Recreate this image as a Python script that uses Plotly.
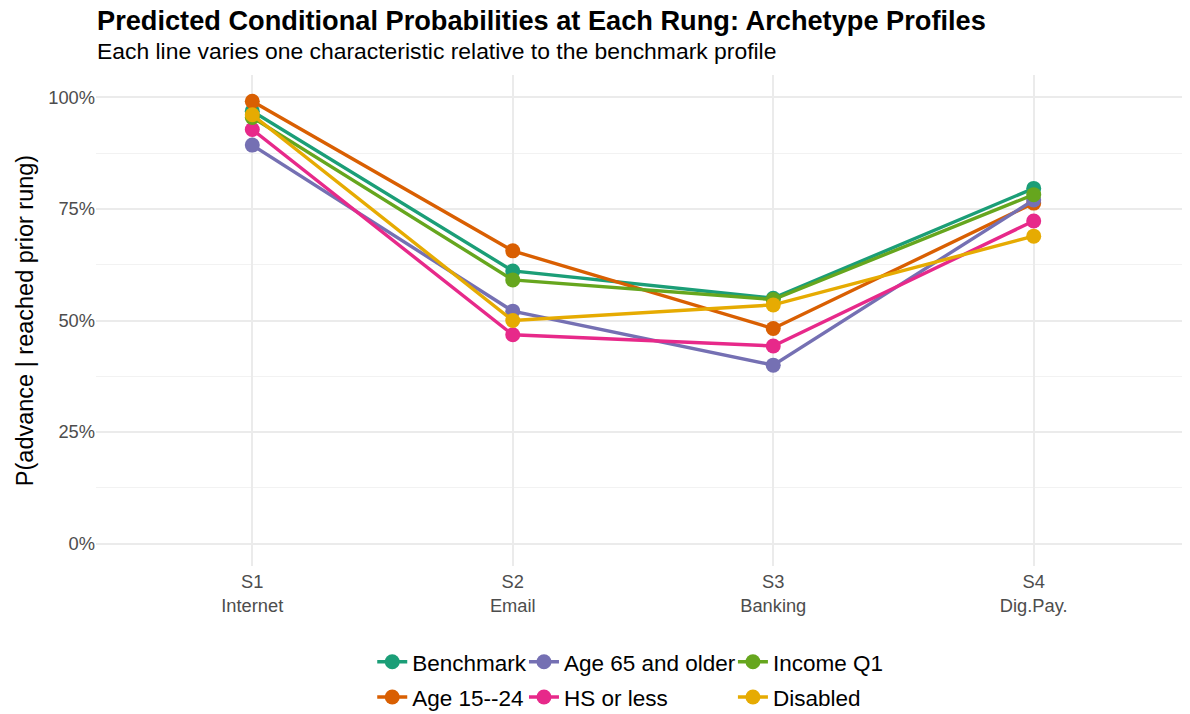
import plotly.graph_objects as go

rungs = ["S1<br>Internet", "S2<br>Email", "S3<br>Banking", "S4<br>Dig.Pay."]

profiles = ["Benchmark", "Age 15--24", "Age 65 and older", "HS or less", "Income Q1", "Disabled"]
colors = ["#1B9E77", "#D95F02", "#7570B3", "#E7298A", "#66A61E", "#E6AB02"]

benchmark = [0.969, 0.611, 0.550, 0.796]
age_15_24 = [0.991, 0.656, 0.482, 0.763]
age_65 = [0.893, 0.521, 0.400, 0.770]
hs_or_less = [0.928, 0.468, 0.443, 0.723]
income_q1 = [0.955, 0.591, 0.547, 0.782]
disabled = [0.961, 0.500, 0.535, 0.689]

series = [benchmark, age_15_24, age_65, hs_or_less, income_q1, disabled]
legend_ids = ["legend", "legend", "legend2", "legend2", "legend3", "legend3"]

FONT = "Liberation Sans, Arial, Helvetica, sans-serif"

fig = go.Figure()
for name, vals, col, lg in zip(profiles, series, colors, legend_ids):
    fig.add_trace(go.Scatter(
        x=rungs, y=vals, mode="lines+markers", name=name,
        line=dict(color=col, width=3.4),
        marker=dict(color=col, size=15),
        legend=lg, legendgroup=name,
    ))

legend_common = dict(
    orientation="v", yanchor="top", y=-0.152, xanchor="left",
    font=dict(size=22.5, color="#000000", family=FONT),
    bgcolor="rgba(0,0,0,0)", traceorder="grouped", tracegroupgap=3,
    itemwidth=30,
)

fig.update_layout(
    width=1182, height=706,
    margin=dict(l=88, r=0, t=67, b=148, autoexpand=False),
    paper_bgcolor="white", plot_bgcolor="white",
    font=dict(family=FONT, color="#000000"),
    legend=dict(x=0.2525, **legend_common),
    legend2=dict(x=0.3912, **legend_common),
    legend3=dict(x=0.5822, **legend_common),
    showlegend=True,
)

fig.add_annotation(
    text="<b>Predicted Conditional Probabilities at Each Rung: Archetype Profiles</b>",
    xref="paper", yref="paper", x=-0.001, y=1.111, xanchor="left", yanchor="middle",
    showarrow=False, font=dict(size=27.2, color="#000000", family=FONT),
)
fig.add_annotation(
    text="Each line varies one characteristic relative to the benchmark profile",
    xref="paper", yref="paper", x=-0.001, y=1.049, xanchor="left", yanchor="middle",
    showarrow=False, font=dict(size=22.9, color="#000000", family=FONT),
)

fig.update_xaxes(
    type="category", range=[-0.6, 3.6], automargin=False,
    showgrid=True, gridcolor="#ebebeb", gridwidth=1.6,
    zeroline=False, showline=False, ticks="", ticklabelstandoff=3,
    tickfont=dict(size=18.3, color="#4d4d4d", family=FONT),
)

fig.update_yaxes(
    range=[-0.05, 1.05], tickvals=[0, 0.25, 0.5, 0.75, 1.0], automargin=False,
    ticktext=["0%", "25%", "50%", "75%", "100%"],
    showgrid=True, gridcolor="#ebebeb", gridwidth=1.6,
    minor=dict(tickvals=[0.125, 0.375, 0.625, 0.875], showgrid=True, gridcolor="#f2f2f2", gridwidth=1),
    zeroline=False, showline=False, ticks="",
    tickfont=dict(size=18.3, color="#4d4d4d", family=FONT),
    title=dict(text="P(advance | reached prior rung)", font=dict(size=23.5, color="#000000", family=FONT), standoff=8),
)

fig.write_html("out.html")
